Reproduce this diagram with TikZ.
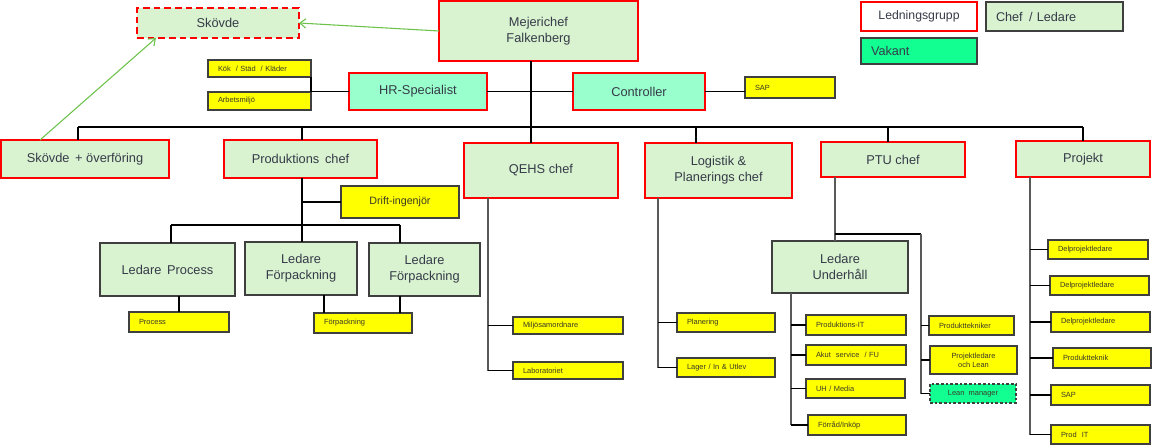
\documentclass[tikz,border=0pt]{standalone}
\usepackage{fontspec}
\setmainfont{Liberation Sans}
\usetikzlibrary{arrows.meta,calc}
\definecolor{lgreen}{HTML}{D9F2D0}
\definecolor{mint}{HTML}{99FFCC}
\definecolor{vak}{HTML}{12FF92}
\definecolor{yel}{HTML}{FFFF00}
\definecolor{redb}{HTML}{FF0000}
\definecolor{grayb}{HTML}{3F3F3F}
\definecolor{txt}{HTML}{353B48}
\definecolor{ytxt}{HTML}{3A3A2A}
\definecolor{arr}{HTML}{6CC24A}
\newcommand\orgbox[7]{\node[#6, minimum width={(#4-#2)*0.75pt}, minimum height={(#5-#3)*0.75pt}] (#1) at ({(#2+#4)/2},{(#3+#5)/2}) {#7};}
\newcommand\ybox[6]{\pgfmathsetmacro\tw{(#4-#2-20)*0.75}\node[yb, text width=\tw pt, minimum width={(#4-#2)*0.75pt}, minimum height={(#5-#3)*0.75pt}] (#1) at ({(#2+#4)/2},{(#3+#5)/2}) {#6};}
\tikzset{
  base/.style={rectangle, inner sep=0pt, outer sep=0pt, text=txt, align=center, font=\fontsize{9.6}{12}\selectfont},
  lead/.style={base, fill=lgreen, draw=redb, line width=2.2pt},
  leadm/.style={base, fill=mint, draw=redb, line width=2.2pt},
  chef/.style={base, fill=lgreen, draw=grayb, line width=0.8pt},
  yb/.style={rectangle, inner ysep=0pt, inner xsep=7.5pt, outer sep=0pt, fill=yel, draw=grayb, line width=0.8pt, text=ytxt, align=left, font=\fontsize{5.6}{6.8}\selectfont},
  ybc/.style={rectangle, inner sep=0pt, outer sep=0pt, fill=yel, draw=grayb, line width=0.8pt, text=ytxt, align=center, font=\fontsize{5.6}{6.8}\selectfont},
  ln/.style={draw=black, line width=0.8pt},
  sub/.style={draw=gray!70!black, line width=1pt},
  grn/.style={draw=arr, line width=0.8pt, -{Straight Barb[length=4.5pt, width=7pt]}}
}
\begin{document}
\begin{tikzpicture}[x=0.75pt, y=-0.75pt]
\useasboundingbox (0,0) rectangle (1152,445);
% top
\orgbox{mej}{439}{1}{638}{61}{lead}{Mejerichef\\Falkenberg}
\orgbox{skv}{137}{8}{299}{38}{lead, dashed, dash pattern=on 5pt off 3pt}{Skövde}
\ybox{kok}{208}{60}{311}{77}{Kök \ / Städ \ / Kläder}
\ybox{arb}{208}{92}{311}{110}{Arbetsmiljö}
\orgbox{hr}{349}{73}{487}{110}{leadm}{HR-Specialist}
\orgbox{ctl}{573}{73}{705}{110}{leadm}{Controller}
\ybox{sapa}{745}{77}{835}{98}{SAP}
% legend
\orgbox{lg}{861}{2}{977}{31}{base, fill=white, draw=redb, line width=2.2pt, font=\fontsize{9.2}{11}\selectfont}{Ledningsgrupp}
\orgbox{cl}{986}{2}{1123}{31}{chef, align=left, text width=117*0.75pt, font=\fontsize{9.5}{11}\selectfont}{Chef \,/ Ledare}
\orgbox{vk}{861}{38}{977}{64}{base, fill=vak, draw=grayb, line width=0.8pt, align=left, text width=96*0.75pt, font=\fontsize{9.5}{11}\selectfont}{Vakant}
% second row
\orgbox{sko}{1}{140}{169}{178}{lead}{Skövde \,+ överföring}
\orgbox{prod}{224}{140}{377}{178}{lead}{Produktions \,chef}
\orgbox{qehs}{464}{143}{618}{198}{lead}{QEHS chef}
\orgbox{log}{645}{143}{792}{198}{lead}{Logistik \&\\Planerings chef}
\orgbox{ptu}{821}{142}{965}{177}{lead}{PTU chef}
\orgbox{proj}{1016}{141}{1150}{177}{lead}{Projekt}
% production subtree
\orgbox{drift}{341}{186}{459}{218}{ybc, font=\fontsize{8}{10}\selectfont}{Drift-ingenjör}
\orgbox{lp}{100}{243}{235}{296}{chef}{Ledare \,Process}
\orgbox{lfa}{245}{242}{357}{295}{chef}{Ledare\\Förpackning}
\orgbox{lfb}{369}{243}{480}{296}{chef}{Ledare\\Förpackning}
\ybox{proc}{129}{312}{229}{332}{Process}
\ybox{forp}{314}{313}{412}{333}{Förpackning}
% QEHS / Logistik
\ybox{milj}{513}{317}{623}{334}{Miljösamordnare}
\ybox{lab}{513}{362}{623}{379}{Laboratoriet}
\ybox{plan}{677}{313}{775}{332}{Planering}
\ybox{lager}{677}{358}{775}{377}{Lager / In \& Utlev}
% PTU
\orgbox{lu}{772}{241}{908}{293}{chef}{Ledare\\Underhåll}
\ybox{pit}{806}{315}{906}{335}{Produktions-IT}
\ybox{akut}{806}{345}{906}{365}{Akut \ service \ / FU}
\ybox{uh}{806}{379}{905}{398}{UH / Media}
\ybox{forr}{808}{415}{906}{435}{Förråd/Inköp}
\ybox{ptek}{929}{316}{1014}{335}{Produkttekniker}
\orgbox{pjl}{930}{346}{1017}{374}{ybc}{Projektledare\\och Lean}
\orgbox{lean}{930}{384}{1016}{403}{ybc, fill=vak, dashed, dash pattern=on 2pt off 1.5pt}{Lean \ manager}
% Projekt
\ybox{dpa}{1048}{240}{1148}{259}{Delprojektledare}
\ybox{dpb}{1050}{276}{1149}{295}{Delprojektledare}
\ybox{dpc}{1051}{312}{1150}{332}{Delprojektledare}
\ybox{ptk}{1053}{348}{1151}{368}{Produktteknik}
\ybox{sapb}{1051}{385}{1150}{405}{SAP}
\ybox{pitb}{1051}{425}{1150}{444}{Prod \ IT}
% ---------- connectors
\coordinate (t1) at (78,127);
\coordinate (t2) at (302,127);
\coordinate (t3) at (531,127);
\coordinate (t4) at (696,127);
\coordinate (t5) at (888,127);
\coordinate (t6) at (1083,127);
\draw[ln] (t1) -- (t6);
\draw[ln] (mej.south -| t3) -- (t3 |- qehs.north);
\draw[ln] (t1) -- (t1 |- sko.north);
\draw[ln] (t2) -- (t2 |- prod.north);
\draw[ln] (t4) -- (t4 |- log.north);
\draw[ln] (t5) -- (t5 |- ptu.north);
\draw[ln] (t6) -- (t6 |- proj.north);
\draw[ln] (hr.east) -- (ctl.west);
\draw[ln] (kok.south east) -- (arb.north east);
\draw[ln] (hr.west) -- (hr.west -| kok.east);
\draw[ln] (ctl.east) -- (ctl.east -| sapa.west);
% green arrows
\draw[grn] ($(sko.north)+(-45,0)$) -- ($(skv.south)+(-62,0)$);
\draw[grn] (mej.west) -- (skv.east);
% production
\coordinate (pl) at (171,225);
\coordinate (pr) at (400,225);
\draw[ln] (prod.south -| t2) -- (t2 |- lfa.north);
\draw[ln] (drift.west) -- (drift.west -| t2);
\draw[ln] (pl) -- (pr);
\draw[ln] (pl) -- (pl |- lp.north);
\draw[ln] (pr) -- (pr |- lfb.north);
\draw[ln] (lp.south -| proc.north) -- (proc.north);
\coordinate (fa) at (324,313);
\coordinate (fb) at (400,313);
\draw[ln] (fa |- lfa.south) -- (fa);
\draw[ln] (fb |- lfb.south) -- (fb);
% QEHS
\coordinate (qv) at (488,0);
\draw[sub] (qv |- qehs.south) -- (qv |- lab.west);
\draw[ln] (qv |- lab.west) -- (lab.west);
\draw[ln] (qv |- milj.west) -- (milj.west);
% Logistik
\coordinate (lv) at (658,0);
\draw[sub] (lv |- log.south) -- (lv |- lager.west);
\draw[ln] (lv |- lager.west) -- (lager.west);
\draw[ln] (lv |- plan.west) -- (plan.west);
% PTU
\coordinate (pv) at (835,234);
\coordinate (pw) at (921,234);
\draw[sub] (pv |- ptu.south) -- (pv |- lu.north);
\draw[ln] (pv) -- (pw);
\draw[sub] (pw) -- (pw |- lean.west);
\draw[ln] (pw |- lean.west) -- (lean.west);
\draw[ln] (pw |- ptek.west) -- (ptek.west);
\draw[ln] (pw |- pjl.west) -- (pjl.west);
% Underhall
\coordinate (uv) at (791,0);
\draw[sub] (uv |- lu.south) -- (uv |- forr.west);
\draw[ln] (uv |- forr.west) -- (forr.west);
\draw[ln] (uv |- pit.west) -- (pit.west);
\draw[ln] (uv |- akut.west) -- (akut.west);
\draw[ln] (uv |- uh.west) -- (uh.west);
% Projekt
\coordinate (jv) at (1030,0);
\draw[sub] (jv |- proj.south) -- (jv |- pitb.west);
\draw[ln] (jv |- pitb.west) -- (pitb.west);
\draw[ln] (jv |- dpa.west) -- (dpa.west);
\draw[ln] (jv |- dpb.west) -- (dpb.west);
\draw[ln] (jv |- dpc.west) -- (dpc.west);
\draw[ln] (jv |- ptk.west) -- (ptk.west);
\draw[ln] (jv |- sapb.west) -- (sapb.west);
\end{tikzpicture}
\end{document}
